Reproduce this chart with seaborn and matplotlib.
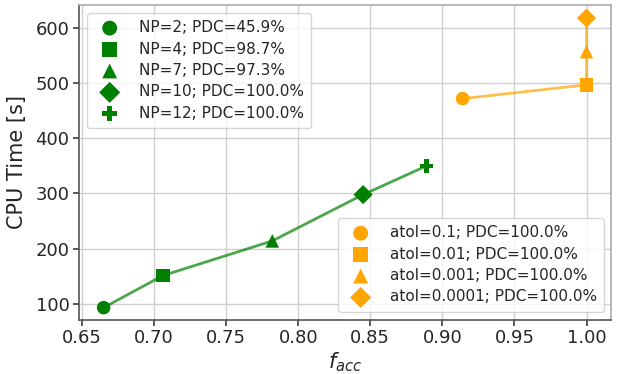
import matplotlib
matplotlib.use("Agg")
import matplotlib.pyplot as plt
import seaborn as sns
import pandas as pd

np_labels = ["NP=2; PDC=45.9%", "NP=4; PDC=98.7%", "NP=7; PDC=97.3%",
             "NP=10; PDC=100.0%", "NP=12; PDC=100.0%"]
np_facc = [0.665, 0.706, 0.782, 0.845, 0.889]
np_cpu = [93, 151, 214, 298, 350]

atol_labels = ["atol=0.1; PDC=100.0%", "atol=0.01; PDC=100.0%",
               "atol=0.001; PDC=100.0%", "atol=0.0001; PDC=100.0%"]
atol_facc = [0.914, 1.0, 1.0, 1.0]
atol_cpu = [472, 497, 557, 618]

markers_np = ["o", "s", "^", "D", "P"]
markers_atol = ["o", "s", "^", "D"]

sns.set_theme(style="whitegrid")
plt.rcParams["font.family"] = ["DejaVu Sans"]

fig, ax = plt.subplots(figsize=(6.28, 3.74), dpi=100)

df_np = pd.DataFrame({"facc": np_facc, "cpu": np_cpu, "lab": np_labels})
df_at = pd.DataFrame({"facc": atol_facc, "cpu": atol_cpu, "lab": atol_labels})

sns.lineplot(data=df_np, x="facc", y="cpu", color="green", alpha=0.7, lw=2, ax=ax,
             sort=False, estimator=None, legend=False)
sns.lineplot(data=df_at, x="facc", y="cpu", color="orange", alpha=0.7, lw=2, ax=ax,
             sort=False, estimator=None, legend=False)

h1 = []
for i, r in df_np.iterrows():
    h = ax.scatter(r.facc, r.cpu, marker=markers_np[i], color="green", s=95,
                   zorder=3, label=r.lab, edgecolor="none")
    h1.append(h)
h2 = []
for i, r in df_at.iterrows():
    h = ax.scatter(r.facc, r.cpu, marker=markers_atol[i], color="orange", s=95,
                   zorder=3, label=r.lab, edgecolor="none")
    h2.append(h)

ax.set_xlim(0.648, 1.017)
ax.set_ylim(71, 642)
ax.set_xticks([0.65, 0.70, 0.75, 0.80, 0.85, 0.90, 0.95, 1.00])
ax.set_yticks([100, 200, 300, 400, 500, 600])
ax.tick_params(labelsize=13, length=4, left=True, bottom=True, color="#444444",
               pad=3)
ax.set_xlabel(r"$f_{acc}$", fontsize=15, labelpad=2)
ax.set_ylabel("CPU Time [s]", fontsize=15, labelpad=6)
ax.grid(True, color="#d0d0d0", lw=1)
for s in ax.spines.values():
    s.set_color("#aaaaaa")
    s.set_linewidth(1.2)
ax.spines["left"].set_color("#555555")
ax.spines["bottom"].set_color("#555555")

leg1 = ax.legend(handles=h1, loc="upper left", fontsize=11, frameon=True,
                 handletextpad=0.9, borderpad=0.5, labelspacing=0.42,
                 markerscale=1.1)
ax.add_artist(leg1)
leg2 = ax.legend(handles=h2, loc="lower right", fontsize=11, frameon=True,
                 handletextpad=0.9, borderpad=0.5, labelspacing=0.42,
                 markerscale=1.1, bbox_to_anchor=(1.002, 0.0))

fig.subplots_adjust(left=0.126, right=0.973, top=0.987, bottom=0.145)
fig.savefig("out.png", dpi=100)
